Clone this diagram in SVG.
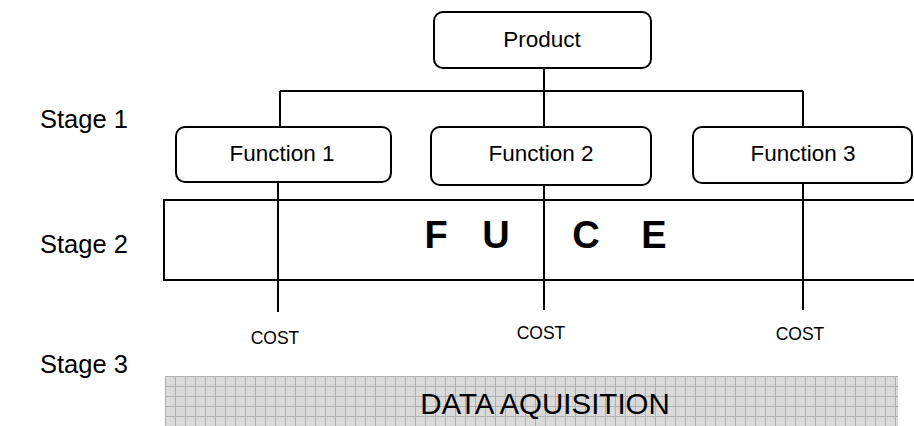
<svg xmlns="http://www.w3.org/2000/svg" width="914" height="426" viewBox="0 0 914 426">
<style>
.box{fill:#fff;stroke:#000;stroke-width:2}
.ln{stroke:#000;stroke-width:2;fill:none}
.t{font-family:"Liberation Sans",Arial,sans-serif;fill:#000}
.stage{font-size:25.5px}
.lbl{font-size:22.5px;text-anchor:middle}
.cost{font-size:17.5px;text-anchor:middle}
.big{font-size:38px;font-weight:bold;text-anchor:middle}
</style>
<defs>
<pattern id="grid" width="10" height="10" patternUnits="userSpaceOnUse" x="165" y="376">
<rect width="10" height="10" fill="#dadada"/>
<path d="M0 0.5H10M0.5 0V10" stroke="#b0b0b0" stroke-width="1"/>
</pattern>
</defs>
<rect width="914" height="426" fill="#fff"/>
<g id="stages">
<text class="t stage" x="40" y="128">Stage 1</text>
<text class="t stage" x="40" y="253">Stage 2</text>
<text class="t stage" x="40" y="373">Stage 3</text>
</g>
<g id="fuce">
<rect x="164" y="200" width="760" height="80" fill="#fff" stroke="#000" stroke-width="2"/>
<text class="t big" x="436" y="248">F</text>
<text class="t big" x="496" y="248">U</text>
<text class="t big" x="586" y="248">C</text>
<text class="t big" x="654" y="248">E</text>
</g>
<g id="connectors">
<path class="ln" d="M544 68V91M280 91H803M280 91V127M544 91V127M803 91V127"/>
<path class="ln" d="M278 182V312M544 185V310M803 183V310"/>
</g>
<g id="product">
<rect class="box" x="434" y="12" width="217" height="56" rx="9"/>
<text class="t lbl" x="542" y="47">Product</text>
</g>
<g id="function1">
<rect class="box" x="176" y="127" width="215" height="55" rx="9"/>
<text class="t lbl" x="282" y="161">Function 1</text>
</g>
<g id="function2">
<rect class="box" x="431" y="127" width="220" height="58" rx="9"/>
<text class="t lbl" x="541" y="161">Function 2</text>
</g>
<g id="function3">
<rect class="box" x="693" y="127" width="219" height="56" rx="9"/>
<text class="t lbl" x="803" y="161">Function 3</text>
</g>
<g id="costs">
<text class="t cost" x="275" y="344">COST</text>
<text class="t cost" x="541" y="339">COST</text>
<text class="t cost" x="800" y="340">COST</text>
</g>
<g id="data">
<rect x="165" y="376" width="733" height="50" fill="url(#grid)"/>
<text class="t" x="545" y="414" font-size="29.5" text-anchor="middle">DATA AQUISITION</text>
</g>
</svg>
